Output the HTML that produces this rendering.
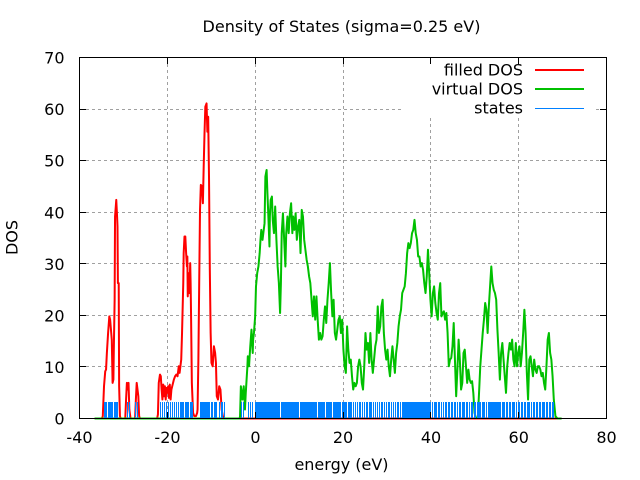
<!DOCTYPE html>
<html>
<head>
<meta charset="utf-8">
<style>
html,body{margin:0;padding:0;background:#fff;}
svg{display:block;}
text{font-family:"DejaVu Sans","Liberation Sans",sans-serif;font-size:16px;fill:#000;}
</style>
</head>
<body>
<svg width="640" height="480" viewBox="0 0 640 480" xmlns="http://www.w3.org/2000/svg">
<rect x="0" y="0" width="640" height="480" fill="#fff"/>
<path fill="none" stroke="#a0a0a0" stroke-width="1" stroke-dasharray="3,3" d="M80 366.5H606M80 315.5H606M80 263.5H606M80 212.5H606M80 160.5H606M80 109.5H606M167.5 58V418M255.5 58V418M343.5 58V418M430.5 58V418M518.5 58V418"/>
<rect x="404" y="58" width="190" height="60" fill="#fff"/>
<g transform="translate(-0.163,0.272) scale(0.408527,0.332719)" fill="none" stroke-linejoin="round">
<polyline vector-effect="non-scaling-stroke" stroke="#ff0000" stroke-width="2" points="232,1257 250,1257 252,1250 255,1160 258,1115 260,1110 262,1060 265,1000 268,950 270,960 271,975 274,1020 276,1150 278,1140 279,1050 281,900 282,650 285,600 287,650 288,680 289,850 291,850 292,1160 294,1250 296,1257 307,1257 309,1200 311,1150 313,1170 315,1150 317,1230 320,1257 331,1257 333,1200 335,1150 337,1170 339,1190 341,1250 343,1257 385,1257 387,1245 389,1150 392,1125 394,1130 396,1170 398,1200 400,1155 402,1190 404,1160 406,1200 408,1165 410,1180 412,1160 414,1195 416,1155 418,1200 420,1170 423,1155 426,1140 429,1130 432,1125 435,1130 438,1100 440,1120 442,1100 444,1080 446,1000 447,950 449,850 450,760 452,710 454,710 456,760 458,800 459,770 460,890 462,820 464,880 466,790 467,850 468,940 470,1150 473,1240 476,1250 480,1250 483,1240 484,1230 486,1080 488,850 490,630 492,555 495,560 497,610 499,500 501,400 503,320 506,310 508,395 510,350 512,530 514,810 516,1000 518,1090 521,1100 524,1040 527,1060 529,1090 531,1190 534,1200 537,1160 540,1170 543,1230 546,1250 549,1257 1375,1257"/>
<polyline vector-effect="non-scaling-stroke" stroke="#00c000" stroke-width="2" points="232,1257 587,1257 588,1250 590,1160 592,1180 594,1200 597,1160 599,1200 600,1230 602,1180 604,1140 606,1100 607,1070 610,1100 613,1040 616,990 619,1060 620,1020 622,1000 625,950 627,860 630,820 633,800 636,760 638,720 640,690 643,720 645,700 648,670 650,530 653,510 655,580 657,640 660,740 661,650 663,600 666,590 668,660 671,700 674,620 677,720 680,800 683,850 686,940 688,850 690,700 693,640 696,720 699,800 701,700 704,650 707,700 710,640 713,610 716,700 718,650 721,690 724,640 727,720 730,680 733,660 736,760 739,630 742,650 745,720 748,750 751,780 754,800 757,830 760,850 763,900 766,950 769,890 772,960 775,890 778,960 781,1020 784,1000 787,1020 790,1010 793,960 796,920 799,970 802,900 805,850 808,790 811,880 814,950 817,900 820,1000 823,1020 826,990 829,960 832,950 835,1000 838,960 841,1050 844,1100 847,1120 850,980 853,1050 856,1090 859,1080 862,1130 865,1170 868,1150 871,1160 874,1150 877,1100 880,1080 883,1100 886,1150 889,1170 892,1100 895,1000 898,1050 901,1030 904,1090 907,1000 910,1080 913,1120 916,1080 919,1040 922,1020 925,920 928,1000 931,980 934,920 937,900 940,1000 943,1050 946,1080 949,1050 952,1100 955,1130 958,1080 961,1040 964,1080 967,1120 970,1060 973,1030 976,980 979,950 982,930 985,880 988,870 991,860 994,820 997,760 1000,730 1003,745 1006,730 1009,700 1012,690 1015,660 1018,700 1021,720 1024,770 1027,770 1030,800 1033,790 1036,810 1039,850 1042,880 1045,830 1048,750 1051,820 1054,900 1057,950 1060,880 1063,860 1066,910 1069,940 1072,960 1075,880 1078,850 1081,950 1084,940 1087,935 1090,960 1093,940 1096,1000 1099,1100 1102,1080 1105,1075 1108,1040 1111,970 1114,1080 1117,1190 1120,1110 1123,1020 1126,1080 1129,1170 1132,1150 1135,1060 1138,1050 1141,1100 1144,1150 1147,1110 1150,1140 1153,1150 1156,1145 1159,1180 1162,1240 1165,1255 1170,1255 1173,1180 1176,1100 1179,1050 1182,1000 1185,960 1188,910 1191,930 1194,1000 1197,920 1200,860 1203,800 1206,850 1209,870 1212,880 1215,900 1218,990 1221,1060 1224,1140 1227,1060 1230,1030 1233,1080 1236,1130 1239,1180 1242,1100 1245,1060 1248,1030 1251,1050 1254,1020 1257,1080 1260,1100 1263,1030 1266,1100 1269,1060 1272,1040 1275,1100 1278,1060 1281,1000 1284,930 1287,1000 1290,1120 1293,1200 1296,1080 1299,1070 1302,1100 1305,1130 1308,1080 1311,1110 1314,1120 1317,1100 1320,1100 1323,1110 1326,1130 1329,1120 1332,1150 1335,1170 1338,1100 1341,1020 1344,1000 1347,1060 1350,1080 1353,1130 1356,1200 1360,1250 1365,1257 1375,1257"/>
</g>
<line x1="104" y1="410.5" x2="554" y2="410.5" stroke="#0080ff" stroke-width="17" shape-rendering="crispEdges" stroke-dasharray="3 1 5 1 4 9 1 1 1 5 1 1 1 22 1 1 1 1 1 1 1 1 1 1 1 1 1 1 1 1 1 1 1 1 4 1 4 1 3 7 10 1 2 1 3 2 1 1 2 1 1 16 1 1 1 4 1 1 1 1 1 2 25 1 18 1 17 1 7 1 6 1 8 1 5 1 4 1 1 1 1 1 1 1 2 1 1 1 1 1 2 1 3 1 1 1 1 1 1 1 1 1 2 1 1 1 1 1 2 1 1 1 1 1 1 1 2 1 1 1 29 1 1 1 3 1 2 1 1 1 1 1 2 1 2 1 2 1 2 1 1 1 2 1 3 1 2 1 1 1 2 1 2 1 4 1 3 1 1 1 13 1 3 1 2 1 2 1 3 1 1 1 2 1 2 1 2 1 3 1 1 1 2 1 2 1 2 1 3 1 2 1 2 1 2 100"/>
<rect x="79.5" y="57.5" width="527" height="361" fill="none" stroke="#000" stroke-width="1" shape-rendering="crispEdges"/>
<path fill="none" stroke="#000" stroke-width="1" shape-rendering="crispEdges" d="M80 366.5h6M80 315.5h6M80 263.5h6M80 212.5h6M80 160.5h6M80 109.5h6M606 366.5h-6M606 315.5h-6M606 263.5h-6M606 212.5h-6M606 160.5h-6M606 109.5h-6M167.5 418v-6M255.5 418v-6M343.5 418v-6M430.5 418v-6M518.5 418v-6M167.5 58v6M255.5 58v6M343.5 58v6M430.5 58v6M518.5 58v6"/>
<text x="64.5" y="424.5" text-anchor="end">0</text>
<text x="64.5" y="373" text-anchor="end">10</text>
<text x="64.5" y="321.5" text-anchor="end">20</text>
<text x="64.5" y="270" text-anchor="end">30</text>
<text x="64.5" y="218.3" text-anchor="end">40</text>
<text x="64.5" y="166.7" text-anchor="end">50</text>
<text x="64.5" y="115.2" text-anchor="end">60</text>
<text x="64.5" y="63.5" text-anchor="end">70</text>
<text x="79.5" y="443" text-anchor="middle">-40</text>
<text x="167.5" y="443" text-anchor="middle">-20</text>
<text x="255.5" y="443" text-anchor="middle">0</text>
<text x="343" y="443" text-anchor="middle">20</text>
<text x="431" y="443" text-anchor="middle">40</text>
<text x="518.7" y="443" text-anchor="middle">60</text>
<text x="606.5" y="443" text-anchor="middle">80</text>
<text x="341.5" y="32" text-anchor="middle">Density of States (sigma=0.25 eV)</text>
<text x="341.5" y="470" text-anchor="middle">energy (eV)</text>
<text transform="translate(17.5,237.5) rotate(-90)" text-anchor="middle">DOS</text>
<text x="523" y="75.5" text-anchor="end">filled DOS</text>
<text x="523" y="94.5" text-anchor="end">virtual DOS</text>
<text x="523" y="113.5" text-anchor="end">states</text>
<line x1="535" y1="70" x2="584" y2="70" stroke="#ff0000" stroke-width="2"/>
<line x1="535" y1="89" x2="584" y2="89" stroke="#00c000" stroke-width="2"/>
<line x1="535" y1="108.5" x2="584" y2="108.5" stroke="#0080ff" stroke-width="1"/>
</svg>
</body>
</html>
